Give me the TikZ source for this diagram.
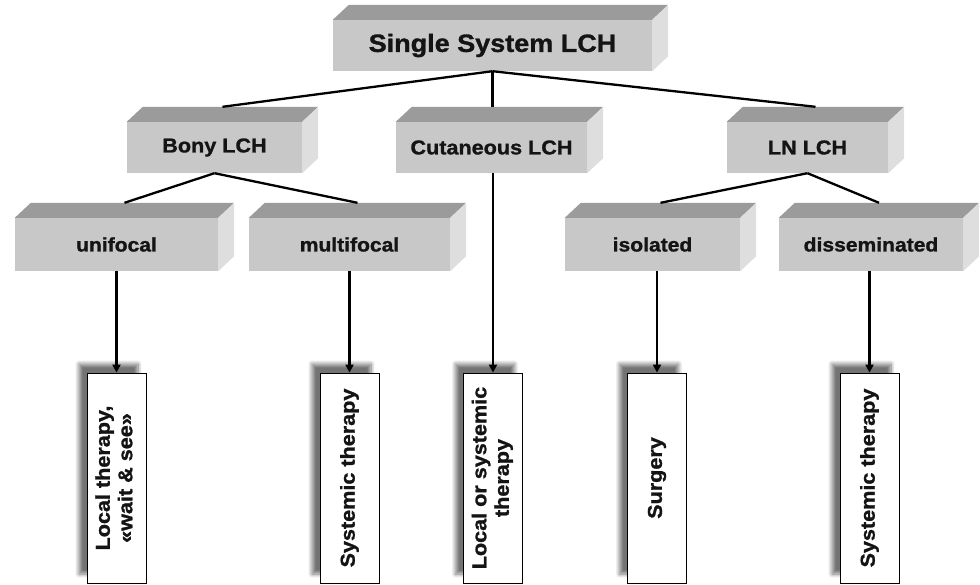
\documentclass[tikz,border=0pt]{standalone}
\usepackage{fontspec}
\setmainfont{Liberation Sans}[FakeStretch=1.08, BoldFeatures={FakeBold=1.2}]
\usetikzlibrary{arrows.meta}
\usetikzlibrary{shadows.blur}
\usetikzlibrary{positioning}
\definecolor{frontgray}{HTML}{C8C8C8}
\definecolor{topgray}{HTML}{9B9B9B}
\definecolor{sidegray}{HTML}{DEDEDE}
\definecolor{inkblack}{HTML}{141414}

\begin{document}
\begin{tikzpicture}[x=1pt, y=-1pt,
    block/.style={fill=frontgray, inner sep=0pt, minimum height=51pt, text=inkblack,
        font=\bfseries\fontsize{20}{24}\selectfont},
    therapy/.style={draw, line width=0.8pt, fill=white, inner sep=0pt,
        minimum width=59pt, minimum height=210pt, text=inkblack,
        font=\bfseries\fontsize{20}{22.5}\selectfont,
        blur shadow={shadow xshift=-8pt, shadow yshift=9pt, shadow blur steps=8,
            shadow blur radius=4pt, shadow opacity=55}},
    link/.style={line width=2.3pt},
    arr/.style={line width=2.3pt, -{Triangle[length=8pt,width=8pt]}}]
    \useasboundingbox (0,0) rectangle (980,584);

    % top block
    \node[block, minimum width=319pt, font=\bfseries\fontsize{25}{30}\selectfont] (top) at (492.5,45.5) {Single System LCH};
    % second row
    \node[block, minimum width=175pt] (bony) at (214.5,147.5) {Bony LCH};
    \node[block, minimum width=191pt] (cut) at (491.5,147.5) {Cutaneous LCH};
    \node[block, minimum width=161pt] (ln) at (807.5,147.5) {LN LCH};
    % third row
    \node[block, minimum width=203pt, minimum height=53pt, font=\bfseries\fontsize{19.5}{23}\selectfont] (uni) at (116.5,244.5) {unifocal};
    \node[block, minimum width=201pt, minimum height=53pt, font=\bfseries\fontsize{19.5}{23}\selectfont] (multi) at (349.5,244.5) {multifocal};
    \node[block, minimum width=175pt, minimum height=53pt, font=\bfseries\fontsize{19.5}{23}\selectfont] (iso) at (652.5,244.5) {isolated};
    \node[block, minimum width=184pt, minimum height=53pt, font=\bfseries\fontsize{19.5}{23}\selectfont] (dis) at (871,244.5) {disseminated};

    % top and side faces of the blocks
    \foreach \n in {top,bony,cut,ln,uni,multi,iso,dis} {
        \fill[topgray] (\n.north west) -- ([shift={(16pt,15pt)}]\n.north west)
            -- ([shift={(16pt,15pt)}]\n.north east) -- (\n.north east) -- cycle;
        \fill[sidegray] (\n.north east) -- ([shift={(16pt,15pt)}]\n.north east)
            -- ([shift={(16pt,15pt)}]\n.south east) -- (\n.south east) -- cycle;
        \coordinate (\n-top) at ([shift={(8pt,15pt)}]\n.north);
    }

    % therapy boxes
    \node[therapy] (lt) at (116.5,478) {\rotatebox{90}{\begin{tabular}{@{}c@{}}Local therapy,\\«wait \& see»\end{tabular}}};
    \node[therapy] (st1) at (349.5,478) {\rotatebox{90}{Systemic therapy}};
    \node[therapy] (lst) at (493,478) {\rotatebox{90}{\begin{tabular}{@{}c@{}}Local or systemic\\therapy\end{tabular}}};
    \node[therapy] (surg) at (657,478) {\rotatebox{90}{Surgery}};
    \node[therapy] (st2) at (869.5,478) {\rotatebox{90}{Systemic therapy}};

    % tree lines
    \draw[link] (top.south) -- (bony-top);
    \draw[link] (top.south) -- (top.south |- cut-top);
    \draw[link] (top.south) -- (ln-top);
    \draw[link] (bony.south) -- (uni-top);
    \draw[link] (bony.south) -- (multi-top);
    \draw[link] (ln.south) -- (iso-top);
    \draw[link] (ln.south) -- (dis-top);

    % arrows to therapies
    \draw[arr] (uni.south -| lt.north) -- (lt.north);
    \draw[arr] (multi.south -| st1.north) -- (st1.north);
    \draw[arr] (cut.south -| lst.north) -- (lst.north);
    \draw[arr] (iso.south -| surg.north) -- (surg.north);
    \draw[arr] (dis.south -| st2.north) -- (st2.north);
\end{tikzpicture}
\end{document}
